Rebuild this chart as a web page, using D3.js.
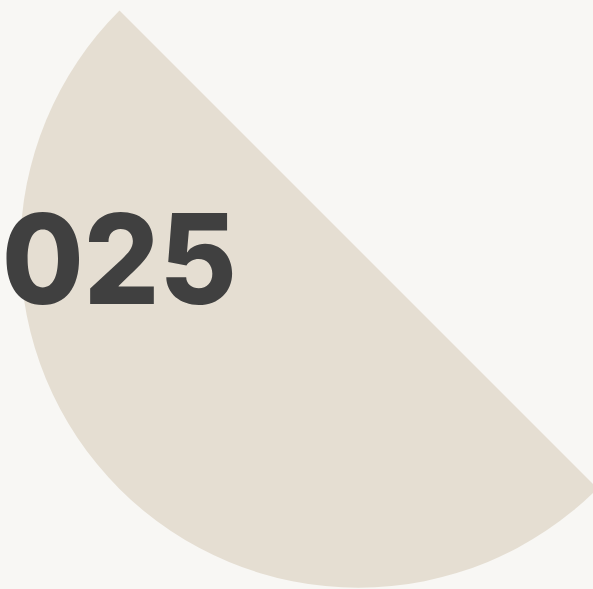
<!doctype html>
<html lang="en">

<head>
    <meta charset="UTF-8">
    <title>2025</title>
    <style>
        html, body { margin: 0; padding: 0; background: #f8f7f4; }
        svg { display: block; }
    </style>
</head>

<body>
    <svg width="593" height="589"></svg>
    <script type="text/javascript" src="https://cdn.jsdelivr.net/npm/d3@7"></script>
    <script type="text/javascript">
    var categories = ['rest', 'year'];
    var values = [50, 50];
    var yearLabel = '2025';

    var svg = d3.select('svg');
    var width = +svg.attr('width');
    var height = +svg.attr('height');

    svg.append('rect')
        .attr('width', width)
        .attr('height', height)
        .attr('fill', '#f8f7f4');

    // half pie, rotated 45deg, part of it runs off the page
    var color = d3.scaleOrdinal()
        .domain(categories)
        .range(['transparent', '#e5ded2']);
    var pie = d3.pie()
        .sort(null)
        .startAngle(-Math.PI / 4)
        .endAngle(Math.PI * 7 / 4);
    var arc = d3.arc()
        .innerRadius(0)
        .outerRadius(338);

    var slices = svg.append('g')
        .attr('transform', 'translate(358.5,249.5)');
    slices.selectAll('path')
        .data(pie(values))
        .enter()
        .append('path')
        .attr('d', arc)
        .attr('fill', function(d, i) {
            return color(categories[i]);
        });

    // big year, the first digit sits off the left edge
    svg.append('text')
        .text(yearLabel)
        .attr('text-anchor', 'end')
        .attr('transform', 'translate(237,304) scale(0.95,1)')
        .style('font-family', 'Inter, "Liberation Sans", sans-serif')
        .style('font-weight', 800)
        .style('font-size', '125px')
        .style('fill', '#404040');
    </script>
</body>

</html>
